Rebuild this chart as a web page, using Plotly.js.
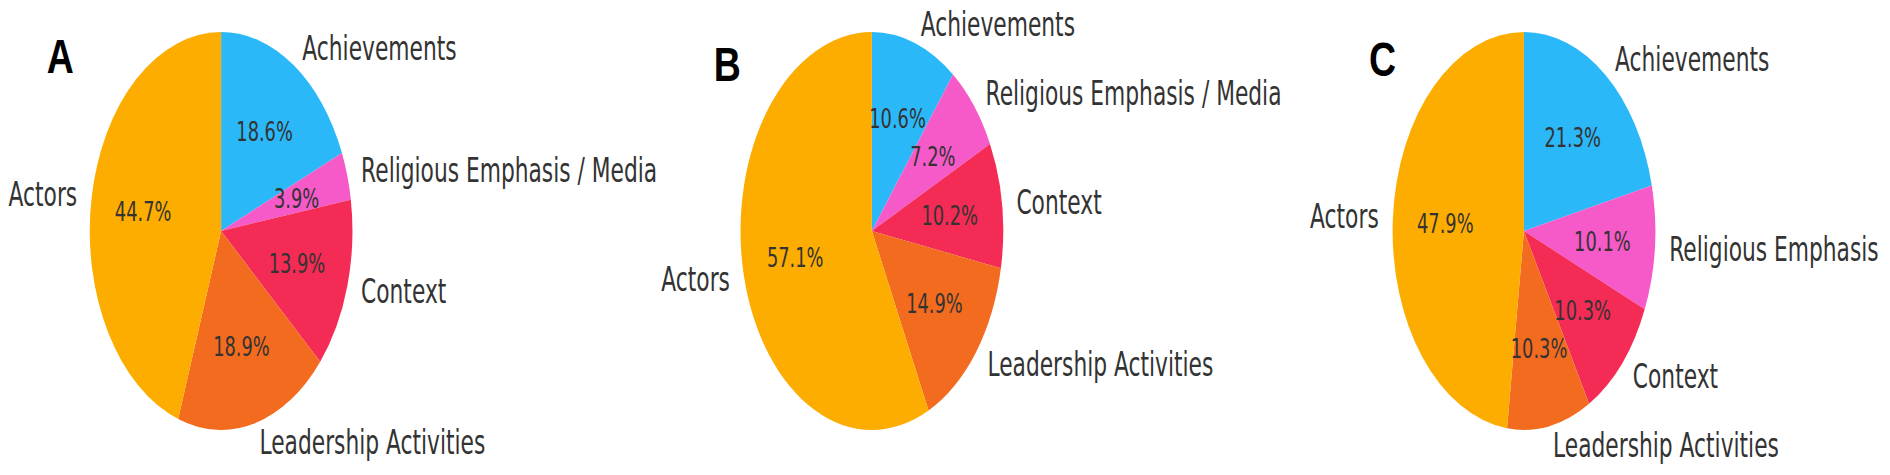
<!DOCTYPE html>
<html>
<head>
<meta charset="utf-8">
<script src="https://cdn.plot.ly/plotly-3.0.1.min.js"></script>
<style>
  html, body { margin: 0; padding: 0; overflow: hidden; background: #fff; }
  /* the source figure was squashed sideways, so the whole plot is too */
  #plotArea { position: absolute; left: 0; top: 0; width: 2864px; height: 475px; transform: scaleX(0.66); transform-origin: 0 0; }
  #letters { position: absolute; left: 0; top: 0; width: 2423px; height: 475px; transform: scaleX(0.78); transform-origin: 0 0; pointer-events: none; }
</style>
</head>
<body>
<div id="plotArea"></div>
<div id="letters"></div>
<script>
// data
var categories = ["Achievements", "Religious Emphasis / Media", "Context", "Leadership Activities", "Actors"];
var categoriesC = ["Achievements", "Religious Emphasis", "Context", "Leadership Activities", "Actors"];
var valuesA = [18.6, 3.9, 13.9, 18.9, 44.7];
var valuesB = [10.6, 7.2, 10.2, 14.9, 57.1];
var valuesC = [21.3, 10.1, 10.3, 10.3, 47.9];
var panelLetters = ["A", "B", "C"];

var sliceColors = ["#2bb8f8", "#f55ac8", "#f42b55", "#f36b1f", "#fdad00"];

var W = 2864, H = 475;
var centers = [335, 1321, 2309];   // px, before the squash
var cy = 231, R = 199;

var panels = [
    {labels: categories, values: valuesA},
    {labels: categories, values: valuesB},
    {labels: categoriesC, values: valuesC}
];

var data = [];
var annotations = [];

panels.forEach(function (p, i) {
    var cx = centers[i];
    data.push({
        type: "pie",
        labels: p.labels,
        values: p.values,
        sort: false,
        direction: "clockwise",
        rotation: 0,
        textinfo: "none",
        hoverinfo: "skip",
        showlegend: false,
        marker: {colors: sliceColors, line: {width: 0}},
        domain: {x: [(cx - 220) / W, (cx + 220) / W], y: [(H - cy - R) / H, (H - cy + R) / H]}
    });

    // matplotlib style labels: name at 1.1 R, percent at 0.6 R
    var total = p.values.reduce(function (a, b) { return a + b; }, 0);
    var start = 0;
    p.values.forEach(function (v, k) {
        var share = v / total;
        var mid = start + share / 2;
        start += share;
        var ang = (90 - mid * 360) * Math.PI / 180;
        var c = Math.cos(ang), s = Math.sin(ang);
        annotations.push({
            xref: "paper", yref: "paper",
            x: (cx + 1.1 * R * c) / W, y: (H - cy + 1.1 * R * s) / H,
            xanchor: c > 0 ? "left" : "right", yanchor: "middle",
            text: p.labels[k], showarrow: false,
            font: {family: "DejaVu Sans", size: 33, color: "#333"}
        });
        annotations.push({
            xref: "paper", yref: "paper",
            x: (cx + 0.6 * R * c) / W, y: (H - cy + 0.6 * R * s) / H,
            xanchor: "center", yanchor: "middle",
            text: (share * 100).toFixed(1) + "%", showarrow: false,
            font: {family: "DejaVu Sans", size: 27, color: "#333"}
        });
    });
});

var layout = {
    width: W,
    height: H,
    margin: {l: 0, r: 0, t: 0, b: 0},
    paper_bgcolor: "#fff",
    annotations: annotations
};

Plotly.newPlot("plotArea", data, layout, {displayModeBar: false, staticPlot: true});

// panel letters, less squashed than the pies
var LW = 2423;
var letterPos = [[58, 56], [913, 64], [1753, 60]];
var letterNotes = panelLetters.map(function (t, i) {
    return {
        xref: "paper", yref: "paper",
        x: letterPos[i][0] / LW, y: (H - letterPos[i][1]) / H,
        xanchor: "left", yanchor: "middle",
        text: "<b>" + t + "</b>", showarrow: false,
        font: {family: "Liberation Sans", size: 48, color: "#000"}
    };
});

Plotly.newPlot("letters", [], {
    width: LW,
    height: H,
    margin: {l: 0, r: 0, t: 0, b: 0},
    paper_bgcolor: "rgba(0,0,0,0)",
    plot_bgcolor: "rgba(0,0,0,0)",
    xaxis: {visible: false},
    yaxis: {visible: false},
    annotations: letterNotes
}, {displayModeBar: false, staticPlot: true});
</script>
</body>
</html>
